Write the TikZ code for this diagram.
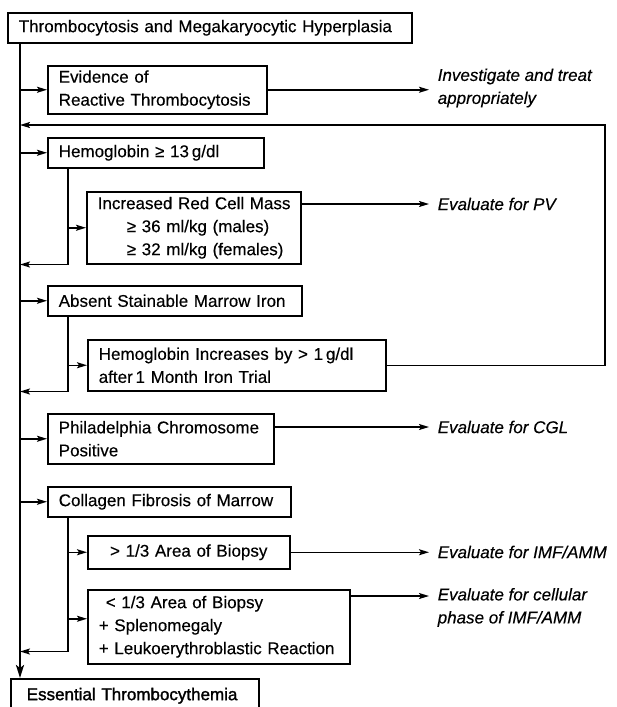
\documentclass[tikz,border=0pt]{standalone}
\usepackage{fontspec}
\setmainfont{Liberation Sans}[FakeBold=0.3]
\newfontfamily\semibold[FakeBold=1.6]{Liberation Sans}
\usepackage{tikz}
\usetikzlibrary{arrows.meta,positioning,calc}

\newcommand{\boxfont}{\fontsize{17}{23}\selectfont}
\tikzset{
  box/.style={draw, anchor=north west, align=left, inner xsep=11pt, inner ysep=0pt, font=\boxfont},
  result/.style={anchor=west, align=left, inner xsep=8pt, inner ysep=0pt, font=\boxfont\itshape},
}

\begin{document}
\begin{tikzpicture}[x=1pt, y=-1pt, line width=1.5pt, >={Stealth[length=10pt,width=6pt,inset=2pt]}]
      \useasboundingbox (0,0) rectangle (617,707);

      \coordinate (spine) at (20,0);
      \coordinate (sub) at (68,0);
      \coordinate (loop) at (605,125);

      \node[box, text width=382pt, minimum height=30pt] (top) at (7,12) {Thrombocytosis and Megakaryocytic Hyperplasia};
      \node[box, text width=197pt, minimum height=48pt] (ev) at (47,65) {Evidence of\\\mbox{Reactive Thrombocytosis}};
      \node[box, text width=194pt, minimum height=30pt] (hb) at (47,137) {Hemoglobin ≥ 13\,g/dl};
      \node[box, text width=192pt, minimum height=72pt] (rcm) at (86,191) {\mbox{Increased Red Cell Mass}\\\hspace*{29pt}≥ 36 ml/kg (males)\\\hspace*{29pt}≥ 32 ml/kg (females)};
      \node[box, text width=232pt, minimum height=30pt] (iron) at (47,285) {Absent Stainable Marrow Iron};
      \node[box, text width=276pt, minimum height=51pt] (trial) at (87,339) {Hemoglobin Increases by > 1\,g/dl\\after\,1 Month Iron Trial};
      \node[box, text width=204pt, minimum height=50pt] (ph) at (47,413) {Philadelphia Chromosome\\Positive};
      \node[box, text width=221pt, minimum height=30pt] (fib) at (47,486) {Collagen Fibrosis of Marrow};
      \node[box, align=center, text width=180pt, minimum height=33pt] (gt) at (87,535) {> 1/3 Area of Biopsy};
      \node[box, text width=240pt, minimum height=74pt] (lt) at (87,589) {\hspace*{7pt}< 1/3 Area of Biopsy\\+ Splenomegaly\\\mbox{+ Leukoerythroblastic Reaction}};
      \node[box, inner xsep=16pt, text width=216pt, minimum height=34pt, font=\boxfont\semibold] (et) at (10,678) {Essential Thrombocythemia};

      \node[result] (inv) at (429,88) {Investigate and treat\\appropriately};
      \node[result] (pv) at (429,204) {Evaluate for PV};
      \node[result] (cgl) at (429,427) {Evaluate for CGL};
      \node[result] (imf) at (429,552) {Evaluate for IMF/AMM};
      \node[result] (cell) at (429,607.5) {Evaluate for cellular\\phase of IMF/AMM};

      % main line
      \draw[->, line width=2.2pt, >={Stealth[length=13pt,width=8pt,inset=3pt]}] (top.south -| spine) -- (et.north -| spine);

      \draw[->] (ev.west -| spine) -- (ev.west);
      \draw[->] (ev.east) -- (ev.east -| inv.west);

      \draw[->] (trial.east) -| (loop) -- (loop -| spine);

      \draw[->] (hb.west -| spine) -- (hb.west);
      \draw[->] (hb.south -| sub) |- (rcm.south -| spine);
      \draw[->] (rcm.west -| sub) -- (rcm.west);
      \draw[->] ([yshift=-13pt]rcm.north east) -- ([yshift=-13pt]rcm.north east -| pv.west);

      \draw[->] (iron.west -| spine) -- (iron.west);
      \draw[->] (iron.south -| sub) |- (trial.south -| spine);
      \draw[->] (trial.west -| sub) -- (trial.west);

      \draw[->] (ph.west -| spine) -- (ph.west);
      \draw[->] ([yshift=-14pt]ph.north east) -- ([yshift=-14pt]ph.north east -| cgl.west);

      \draw[->] (fib.west -| spine) -- (fib.west);
      \draw[->] (fib.south -| sub) |- ([yshift=13pt]lt.south -| spine);
      \draw[->] (gt.west -| sub) -- (gt.west);
      \draw[->] (gt.east) -- (gt.east -| imf.west);
      \draw[->] ([yshift=8pt]lt.west -| sub) -- ([yshift=8pt]lt.west);
      \draw[->] ([yshift=-7pt]lt.north east) -- ([yshift=-7pt]lt.north east -| cell.west);

    \end{tikzpicture}
\end{document}
